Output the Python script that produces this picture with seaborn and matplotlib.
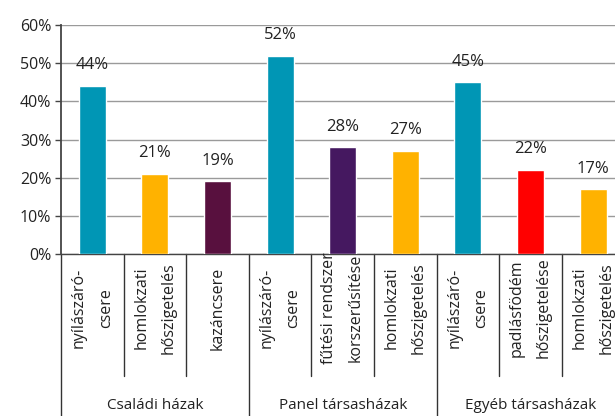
import matplotlib
matplotlib.use("Agg")
import matplotlib.pyplot as plt
import matplotlib.transforms as mtransforms
import pandas as pd
import seaborn as sns

# data
groups = ["Családi házak", "Panel társasházak", "Egyéb társasházak"]
group_sizes = [3, 3, 3]
categories = [
    "nyílászáró-\ncsere",
    "homlokzati\nhőszigetelés",
    "kazáncsere",
    "nyílászáró-\ncsere",
    "fűtési rendszer\nkorszerűsítése",
    "homlokzati\nhőszigetelés",
    "nyílászáró-\ncsere",
    "padlásfödém\nhőszigetelése",
    "homlokzati\nhőszigetelés",
]
values = [44, 21, 19, 52, 28, 27, 45, 22, 17]
colors = ["#0096B5", "#FFB200", "#58103E", "#0096B5", "#451860",
          "#FFB200", "#0096B5", "#FF0000", "#FFB200"]
y_ticks = [0, 10, 20, 30, 40, 50, 60]

sns.set_style("white")
plt.rcParams["font.family"] = ["Open Sans", "DejaVu Sans"]

df = pd.DataFrame({"key": [f"c{i}" for i in range(len(values))], "value": values})

fig = plt.figure(figsize=(6.15, 4.16), dpi=100)
ax = fig.add_axes([0.0992, 0.3894, 0.9008, 0.5505])

sns.barplot(data=df, x="key", y="value", hue="key", palette=colors,
            width=0.43, legend=False, ax=ax, saturation=1, zorder=3)

ax.set_ylim(0, 60)
ax.set_xlim(-0.5, 8.35)
ax.set_yticks(y_ticks)
ax.set_yticklabels([f"{t}%" for t in y_ticks], fontsize=11.5, color="#222222")
ax.yaxis.grid(True, color="#9a9a9a", linewidth=1, zorder=0)
ax.tick_params(axis="y", length=4, width=1, color="#444444", pad=3, left=True)
ax.set_xticks([])
ax.set_xlabel("")
ax.set_ylabel("")
for side in ["top", "right"]:
    ax.spines[side].set_visible(False)
ax.spines["left"].set_color("#444444")
ax.spines["left"].set_linewidth(1.3)
ax.spines["bottom"].set_color("#444444")
ax.spines["bottom"].set_linewidth(1)

# value labels
for i, v in enumerate(values):
    ax.text(i, v + 3.3, f"{v}%", ha="center", va="bottom", fontsize=12, color="#222222")

# category labels and separators below the axis
trans = mtransforms.blended_transform_factory(ax.transData, ax.transAxes)
for i, cat in enumerate(categories):
    ax.text(i, -0.236, cat, transform=trans, rotation=90, ha="center", va="center",
            multialignment="center", fontsize=11.5, linespacing=1.9, color="#222222")

start = 0
group_edges = []
for g, size in zip(groups, group_sizes):
    group_edges.append(start - 0.5)
    for j in range(1, size):
        ax.plot([start + j - 0.5] * 2, [0, -0.533], transform=trans, color="#333333",
                linewidth=1, clip_on=False)
    ax.text(start + (size - 1) / 2, -0.66, g, transform=trans, ha="center", va="center",
            fontsize=11, color="#222222")
    start += size

for x in group_edges:
    ax.plot([x, x], [0, -0.75], transform=trans, color="#333333", linewidth=1, clip_on=False)

fig.savefig("out.png", dpi=100)
